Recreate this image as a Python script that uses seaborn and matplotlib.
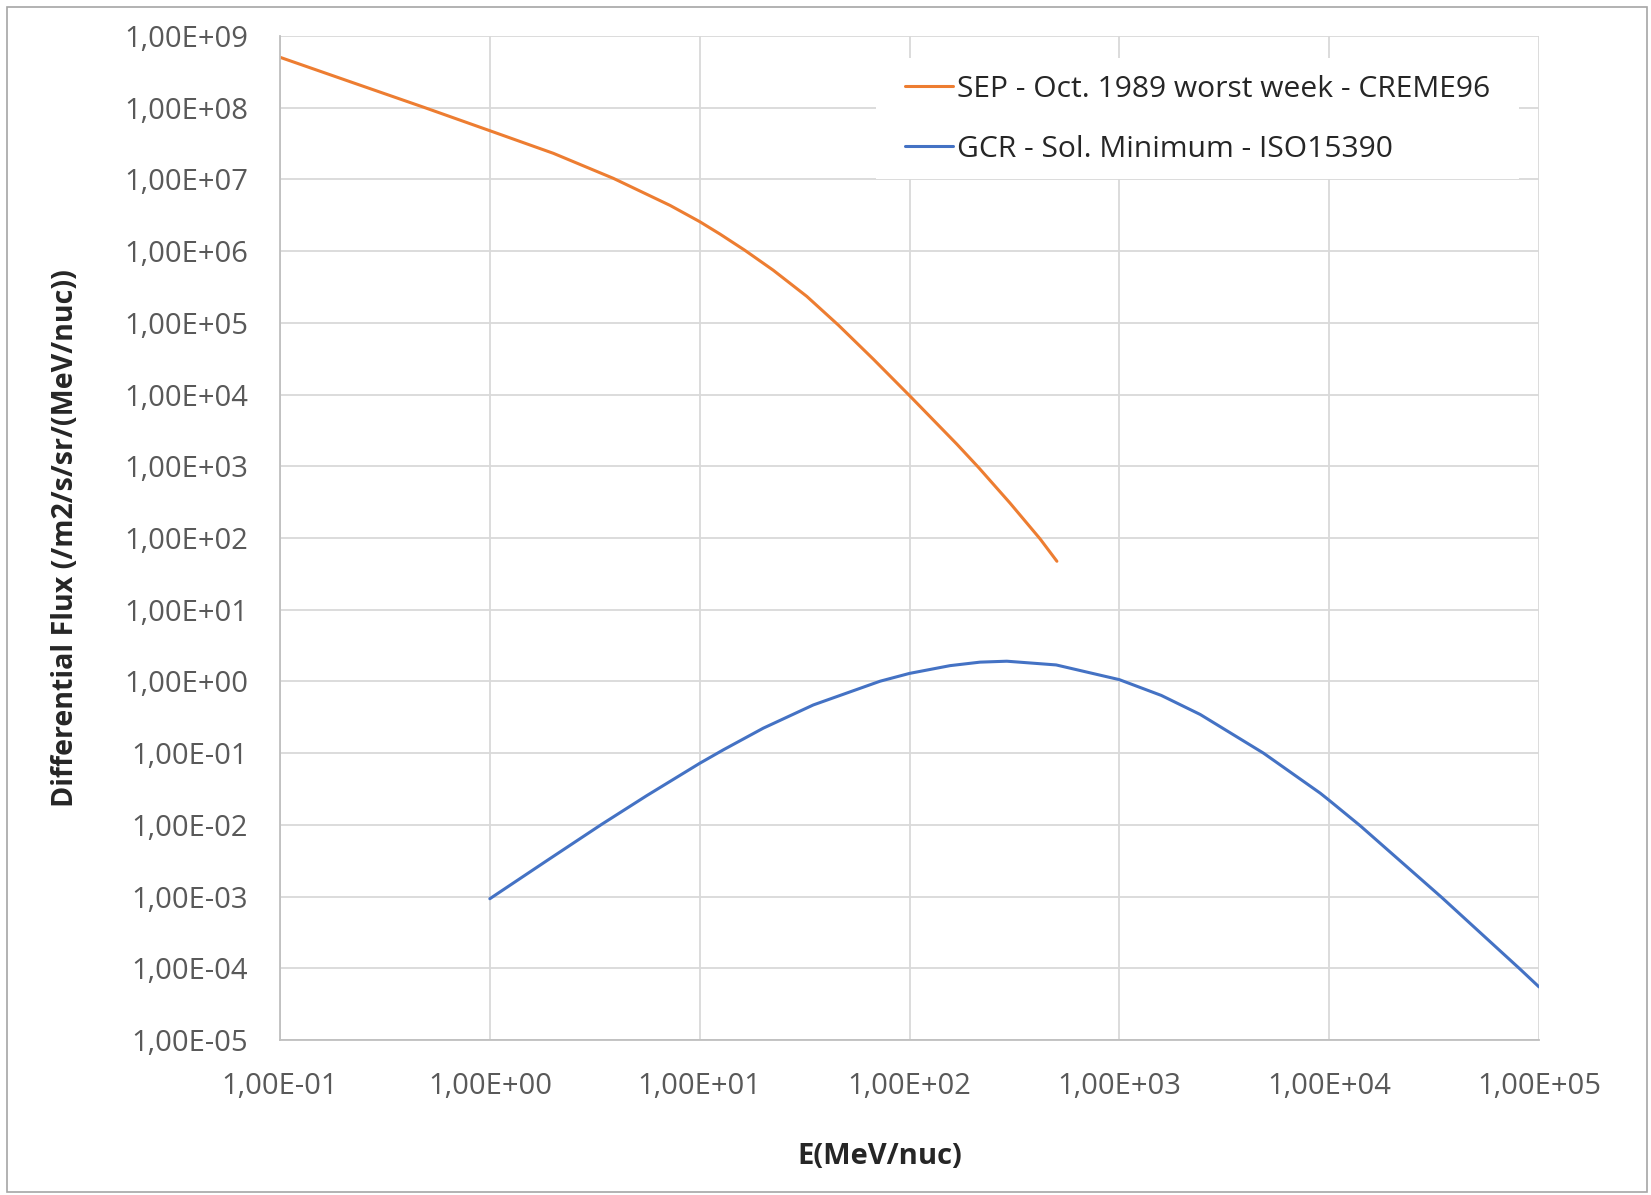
import pandas as pd
import numpy as np
import matplotlib.pyplot as plt
import seaborn as sns
from matplotlib.ticker import FixedLocator, FuncFormatter, NullLocator
from matplotlib.patches import Rectangle

# SEP - Oct. 1989 worst week - CREME96
sep_energy = [0.1, 0.223, 0.491, 1, 2.01, 3.88, 7.23, 10, 12.5, 16.4, 22.4, 32.4,
              45.8, 67.3, 100.7, 168, 213, 301, 419, 504]
sep_flux = [5.05e8, 2.23e8, 1.0e8, 4.78e7, 2.31e7, 1.035e7, 4.34e6, 2.58e6, 1.73e6,
            1.03e6, 5.43e5, 2.34e5, 9.31e4, 3.11e4, 9.48e3, 2.04e3, 968, 308, 97.3,
            47.4]

# GCR - Sol. Minimum - ISO15390
gcr_energy = [1, 1.87, 3.41, 5.6, 10, 13, 20.1, 34.8, 72.4, 100, 156, 217, 291, 500,
              1000, 1585, 2430, 4860, 9060, 1e4, 14060, 34400, 81300, 1e5]
gcr_flux = [9.33e-4, 3.17e-3, 1.016e-2, 2.56e-2, 7.21e-2, 0.1117, 0.223, 0.470,
            1.007, 1.294, 1.660, 1.858, 1.914, 1.698, 1.059, 0.638, 0.346, 0.1002,
            2.77e-2, 2.20e-2, 9.72e-3, 9.72e-4, 9.72e-5, 5.5e-5]

sep_label = 'SEP - Oct. 1989 worst week - CREME96'
gcr_label = 'GCR - Sol. Minimum - ISO15390'

df = pd.concat([
    pd.DataFrame({'E': sep_energy, 'flux': sep_flux, 'series': sep_label}),
    pd.DataFrame({'E': gcr_energy, 'flux': gcr_flux, 'series': gcr_label}),
])

sns.set_style('white')
plt.rcParams['font.family'] = ['Open Sans', 'DejaVu Sans']

fig = plt.figure(figsize=(16.51, 11.95), dpi=100)
ax = fig.add_axes([280 / 1651, 1 - 1040 / 1195, 1259 / 1651, 1004 / 1195])

sns.lineplot(data=df, x='E', y='flux', hue='series', sort=False,
             palette={sep_label: '#ED7D31', gcr_label: '#4472C4'},
             linewidth=2.2, ax=ax)

ax.set_xscale('log')
ax.set_yscale('log')
ax.set_xlim(0.1, 1e5)
ax.set_ylim(1e-5, 1e9)
ax.xaxis.set_major_locator(FixedLocator([10.0 ** k for k in range(-1, 6)]))
ax.yaxis.set_major_locator(FixedLocator([10.0 ** k for k in range(-5, 10)]))
ax.xaxis.set_minor_locator(NullLocator())
ax.yaxis.set_minor_locator(NullLocator())
fmt = FuncFormatter(lambda v, p: f'{v:.2E}'.replace('.', ','))
ax.xaxis.set_major_formatter(fmt)
ax.yaxis.set_major_formatter(fmt)

ax.grid(True, color='#d9d9d9', linewidth=1.3)
for s in ['top', 'right']:
    ax.spines[s].set_visible(False)
for s in ['left', 'bottom']:
    ax.spines[s].set_color('#bfbfbf')
    ax.spines[s].set_linewidth(1.3)
ax.tick_params(length=0, labelsize=21, labelcolor='#595959')
ax.tick_params(axis='y', pad=23)
ax.tick_params(axis='x', pad=23)

ax.set_xlabel('E(MeV/nuc)', fontsize=21, fontweight='bold', va='center')
ax.set_ylabel('Differential Flux (/m2/s/sr/(MeV/nuc))', fontsize=20.6,
              fontweight='bold', va='center')
ax.xaxis.set_label_coords(0.4766, -0.1165)
ax.yaxis.set_label_coords(-0.170, 0.5)

# white legend area over the grid, as in the original
ax.add_patch(Rectangle((0.4734, 0.8576), 0.5107, 0.1204, transform=ax.transAxes,
                       facecolor='white', edgecolor='none', zorder=1.5))
leg = ax.legend(loc='upper left', bbox_to_anchor=(0.4964, 0.9616), fontsize=21.6,
                frameon=False, handlelength=1.6, handletextpad=0.14,
                labelspacing=1.04, borderpad=0, borderaxespad=0)
for line in leg.get_lines():
    line.set_linewidth(2.2)

fig.patches.append(Rectangle((7 / 1651, 3 / 1195), 1640 / 1651, 1185 / 1195,
                             transform=fig.transFigure, fill=False,
                             edgecolor='#a6a6a6', linewidth=1.2))

fig.savefig('out.png', dpi=100)
